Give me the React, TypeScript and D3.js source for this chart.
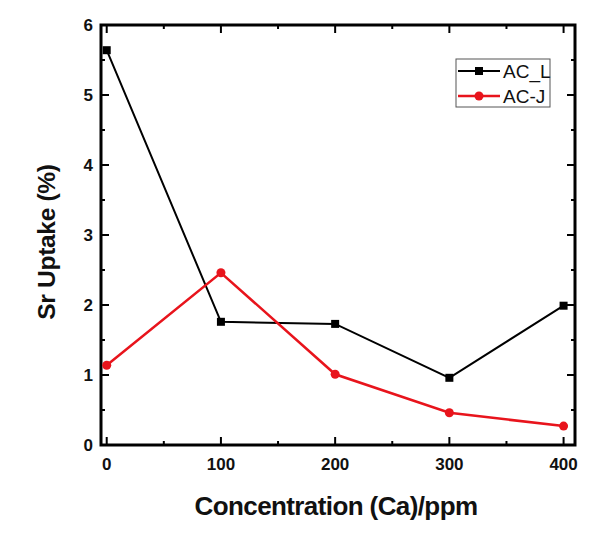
import React from "react";
import * as d3 from "d3";

const concentrations = [0, 100, 200, 300, 400];
const acL = [5.64, 1.76, 1.73, 0.96, 1.99];
const acJ = [1.14, 2.46, 1.01, 0.46, 0.27];
const xTicks = [0, 100, 200, 300, 400];
const xMinor = [50, 150, 250, 350];
const yTicks = [0, 1, 2, 3, 4, 5, 6];
const yMinor = [0.5, 1.5, 2.5, 3.5, 4.5, 5.5];
const seriesNames = ["AC_L", "AC-J"];

const W = 607;
const H = 541;
const FONT = "Arial, 'Liberation Sans', sans-serif";

export default function App() {
  const x = d3.scaleLinear().domain([-5, 410]).range([101, 575]);
  const y = d3.scaleLinear().domain([0, 6]).range([445, 25]);
  const [x0, x1] = x.range();
  const [y0, y1] = y.range();

  const line = d3
    .line<[number, number]>()
    .x((d) => x(d[0]))
    .y((d) => y(d[1]));

  const dL: [number, number][] = concentrations.map((c, i) => [c, acL[i]]);
  const dJ: [number, number][] = concentrations.map((c, i) => [c, acJ[i]]);

  const major = 8;
  const minor = 4;

  return (
    <svg
      width={W}
      height={H}
      style={{ position: "absolute", left: 0, top: 0, background: "#fff" }}
      fontFamily={FONT}
    >
      <rect x={0} y={0} width={W} height={H} fill="#fff" />
      {/* ticks */}
      <g stroke="#000" strokeWidth={2}>
        {xTicks.map((t) => (
          <g key={"xt" + t}>
            <line x1={x(t)} x2={x(t)} y1={y0} y2={y0 - major} />
            <line x1={x(t)} x2={x(t)} y1={y1} y2={y1 + major} />
          </g>
        ))}
        {xMinor.map((t) => (
          <g key={"xm" + t}>
            <line x1={x(t)} x2={x(t)} y1={y0} y2={y0 - minor} />
            <line x1={x(t)} x2={x(t)} y1={y1} y2={y1 + minor} />
          </g>
        ))}
        {yTicks.map((t) => (
          <g key={"yt" + t}>
            <line x1={x0} x2={x0 + major} y1={y(t)} y2={y(t)} />
            <line x1={x1} x2={x1 - major} y1={y(t)} y2={y(t)} />
          </g>
        ))}
        {yMinor.map((t) => (
          <g key={"ym" + t}>
            <line x1={x0} x2={x0 + minor} y1={y(t)} y2={y(t)} />
            <line x1={x1} x2={x1 - minor} y1={y(t)} y2={y(t)} />
          </g>
        ))}
      </g>
      {/* frame */}
      <rect
        x={x0}
        y={y1}
        width={x1 - x0}
        height={y0 - y1}
        fill="none"
        stroke="#000"
        strokeWidth={3}
      />
      {/* tick labels */}
      <g fontSize={17} fontWeight="bold" fill="#111">
        {xTicks.map((t) => (
          <text key={"xl" + t} x={x(t)} y={y0 + 25} textAnchor="middle">
            {t}
          </text>
        ))}
        {yTicks.map((t) => (
          <text key={"yl" + t} x={x0 - 8} y={y(t) + 6} textAnchor="end">
            {t}
          </text>
        ))}
      </g>
      {/* series */}
      <path d={line(dL) || ""} fill="none" stroke="#000" strokeWidth={2} />
      <path d={line(dJ) || ""} fill="none" stroke="#e8141c" strokeWidth={2.5} />
      {dL.map((d, i) => (
        <rect
          key={"ls" + i}
          x={x(d[0]) - 4}
          y={y(d[1]) - 4}
          width={8}
          height={8}
          fill="#000"
        />
      ))}
      {dJ.map((d, i) => (
        <circle key={"jc" + i} cx={x(d[0])} cy={y(d[1])} r={4.5} fill="#e8141c" />
      ))}
      {/* legend */}
      <g>
        <rect x={456} y={59} width={94} height={48} fill="#fff" stroke="#555" strokeWidth={1} />
        <line x1={458} x2={500} y1={71} y2={71} stroke="#000" strokeWidth={2} />
        <rect x={475} y={67} width={8} height={8} fill="#000" />
        <text x={503} y={78} fontSize={19} fill="#111">
          {seriesNames[0]}
        </text>
        <line x1={458} x2={500} y1={96} y2={96} stroke="#e8141c" strokeWidth={2.5} />
        <circle cx={479} cy={96} r={4.5} fill="#e8141c" />
        <text x={503} y={103} fontSize={19} fill="#111">
          {seriesNames[1]}
        </text>
      </g>
      {/* axis titles */}
      <text
        x={336}
        y={515}
        textAnchor="middle"
        fontSize={26}
        fontWeight="bold"
        letterSpacing={-0.6}
        fill="#111"
      >
        Concentration (Ca)/ppm
      </text>
      <text
        transform={`translate(55,242) rotate(-90)`}
        textAnchor="middle"
        fontSize={24.5}
        fontWeight="bold"
        letterSpacing={-0.3}
        fill="#111"
      >
        Sr Uptake (%)
      </text>
    </svg>
  );
}
